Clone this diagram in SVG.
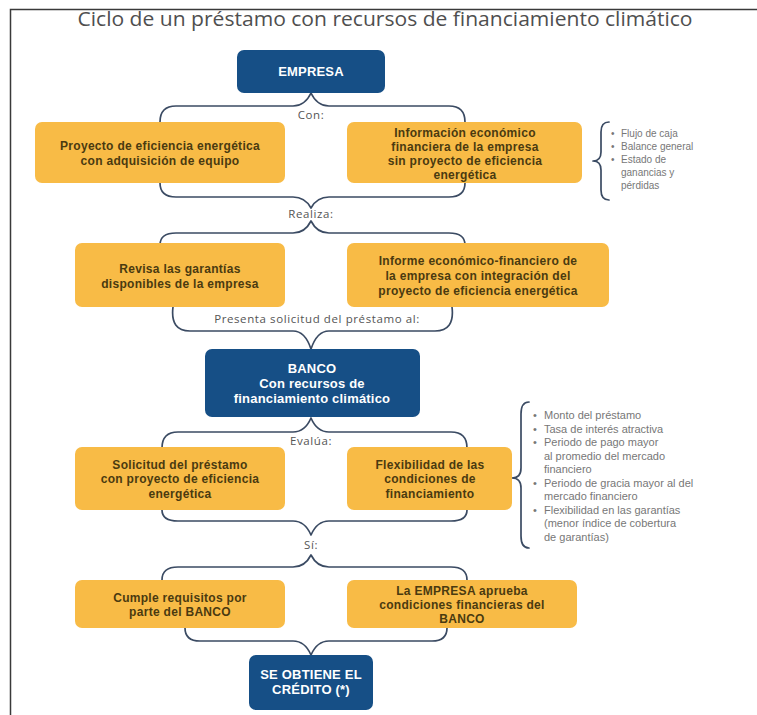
<svg xmlns="http://www.w3.org/2000/svg" width="757" height="715" viewBox="0 0 757 715">
<style>
.bg{fill:#ffffff}
.frame{stroke:#3a3a3a;stroke-width:1.5;fill:none}
.title{font-family:"Open Sans","Liberation Sans",sans-serif;font-size:20px;fill:#4f4f4f}
.blue rect{fill:#164f86}
.blue text{font-family:"Liberation Sans",Arial,sans-serif;font-size:13px;font-weight:700;letter-spacing:0.2px;fill:#ffffff;text-anchor:middle}
.orange rect{fill:#f8bb46}
.orange text{font-family:"Liberation Sans",Arial,sans-serif;font-size:12px;font-weight:700;letter-spacing:0.3px;fill:#4a3a10;text-anchor:middle}
.brace{fill:none;stroke:#3b4b63;stroke-width:1.7;stroke-linecap:round;stroke-linejoin:round}
.lbl{font-family:"Open Sans","Liberation Sans",sans-serif;font-size:11.5px;letter-spacing:0.6px;fill:#555555;text-anchor:middle}
.note{font-family:"Liberation Sans",Arial,sans-serif;font-size:10px;fill:#777777}
.note2{font-family:"Liberation Sans",Arial,sans-serif;font-size:11px;fill:#777777}
</style>
<rect class="bg" x="0" y="0" width="757" height="715"/>
<path class="frame" d="M10.5,715 L10.5,9.5 L757,9.5"/>
<text class="title" x="385" y="26" text-anchor="middle" textLength="615" lengthAdjust="spacingAndGlyphs">Ciclo de un préstamo con recursos de financiamiento climático</text>

<g id="connectors">
<path class="brace" d="M160,122 Q160,106 176,106 L293,106 Q305,106 311,93 Q317,106 329,106 L449,106 Q465,106 465,122"/>
<path class="brace" d="M160,183 Q160,197 176,197 L293,197 Q305,197 311,208 Q317,197 329,197 L449,197 Q465,197 465,183"/>
<path class="brace" d="M160,245 Q160,233 176,233 L293,233 Q305,233 311,221 Q317,233 329,233 L449,233 Q465,233 465,245"/>
<path class="brace" d="M173,307 Q170,331 190,331 L293,331 Q305,331 311,349 Q317,331 329,331 L435,331 Q455,331 452,307"/>
<path class="brace" d="M162,448 Q162,432 178,432 L293,432 Q305,432 311,418 Q317,432 329,432 L451,432 Q467,432 467,448"/>
<path class="brace" d="M162,510 Q162,521 178,521 L293,521 Q305,521 311,535 Q317,521 329,521 L451,521 Q467,521 467,510"/>
<path class="brace" d="M162,580 Q162,567 178,567 L293,567 Q305,567 311,555 Q317,567 329,567 L451,567 Q467,567 467,580"/>
<path class="brace" d="M185,628 Q185,641 200,641 L293,641 Q305,641 311,655 Q317,641 329,641 L432,641 Q447,641 447,628"/>
<path class="brace" d="M609,122 Q601,122 601,132 L601,152 Q601,161 593,161 Q601,161 601,170 L601,190 Q601,200 609,200"/>
<path class="brace" d="M529,402 Q521,402 521,414 L521,468 Q521,478 512,478 Q521,478 521,488 L521,536 Q521,548 529,548"/>
<text class="lbl" x="311" y="119">Con:</text>
<text class="lbl" x="311" y="218">Realiza:</text>
<text class="lbl" x="317" y="323">Presenta solicitud del préstamo al:</text>
<text class="lbl" x="311" y="445">Evalúa:</text>
<text class="lbl" x="311" y="549">Sí:</text>
</g>

<g id="n-empresa" class="blue">
<rect x="237" y="50" width="148" height="43" rx="7"/>
<text x="311" y="76">EMPRESA</text>
</g>

<g id="n-proyecto" class="orange">
<rect x="35" y="122" width="250" height="61" rx="7"/>
<text x="160" y="149.5">Proyecto de eficiencia energética</text>
<text x="160" y="164.5">con adquisición de equipo</text>
</g>

<g id="n-informacion" class="orange">
<rect x="347" y="122" width="235" height="61" rx="7"/>
<text x="465" y="136.5">Información económico</text>
<text x="465" y="150.5">financiera de la empresa</text>
<text x="465" y="164.5">sin proyecto de eficiencia</text>
<text x="465" y="178.5">energética</text>
</g>

<g id="n-nota1">
<text class="note" x="611" y="136.5">•</text><text class="note" x="621" y="136.5">Flujo de caja</text>
<text class="note" x="611" y="149.5">•</text><text class="note" x="621" y="149.5">Balance general</text>
<text class="note" x="611" y="162.5">•</text><text class="note" x="621" y="162.5">Estado de</text>
<text class="note" x="621" y="175.5">ganancias y</text>
<text class="note" x="621" y="188.5">pérdidas</text>
</g>

<g id="n-garantias" class="orange">
<rect x="75" y="243" width="210" height="64" rx="7"/>
<text x="180" y="272.5">Revisa las garantías</text>
<text x="180" y="287.5">disponibles de la empresa</text>
</g>

<g id="n-informe" class="orange">
<rect x="347" y="243" width="262" height="64" rx="7"/>
<text x="478" y="264.5">Informe económico-financiero de</text>
<text x="478" y="279.5">la empresa con integración del</text>
<text x="478" y="294.5">proyecto de eficiencia energética</text>
</g>

<g id="n-banco" class="blue">
<rect x="205" y="349" width="215" height="68" rx="7"/>
<text x="312" y="372.5">BANCO</text>
<text x="312" y="387.5">Con recursos de</text>
<text x="312" y="402.5">financiamiento climático</text>
</g>

<g id="n-solicitud" class="orange">
<rect x="75" y="447" width="210" height="63" rx="7"/>
<text x="180" y="468.5">Solicitud del préstamo</text>
<text x="180" y="483">con proyecto de eficiencia</text>
<text x="180" y="497.5">energética</text>
</g>

<g id="n-flexibilidad" class="orange">
<rect x="347" y="447" width="165" height="63" rx="7"/>
<text x="430" y="468.5">Flexibilidad de las</text>
<text x="430" y="483">condiciones de</text>
<text x="430" y="497.5">financiamiento</text>
</g>

<g id="n-nota2">
<text class="note2" x="533" y="419">•</text><text class="note2" x="544" y="419">Monto del préstamo</text>
<text class="note2" x="533" y="432.5">•</text><text class="note2" x="544" y="432.5">Tasa de interés atractiva</text>
<text class="note2" x="533" y="446">•</text><text class="note2" x="544" y="446">Periodo de pago mayor</text>
<text class="note2" x="544" y="459.5">al promedio del mercado</text>
<text class="note2" x="544" y="473">financiero</text>
<text class="note2" x="533" y="486.5">•</text><text class="note2" x="544" y="486.5">Periodo de gracia mayor al del</text>
<text class="note2" x="544" y="500">mercado financiero</text>
<text class="note2" x="533" y="513.5">•</text><text class="note2" x="544" y="513.5">Flexibilidad en las garantías</text>
<text class="note2" x="544" y="527">(menor índice de cobertura</text>
<text class="note2" x="544" y="540.5">de garantías)</text>
</g>

<g id="n-cumple" class="orange">
<rect x="75" y="580" width="210" height="48" rx="7"/>
<text x="180" y="601.5">Cumple requisitos por</text>
<text x="180" y="615.5">parte del BANCO</text>
</g>

<g id="n-aprueba" class="orange">
<rect x="347" y="580" width="230" height="48" rx="7"/>
<text x="462" y="594.5">La EMPRESA aprueba</text>
<text x="462" y="608.5">condiciones financieras del</text>
<text x="462" y="622.5">BANCO</text>
</g>

<g id="n-credito" class="blue">
<rect x="249" y="655" width="124" height="55" rx="7"/>
<text x="311" y="679">SE OBTIENE EL</text>
<text x="311" y="694">CRÉDITO (*)</text>
</g>
</svg>
